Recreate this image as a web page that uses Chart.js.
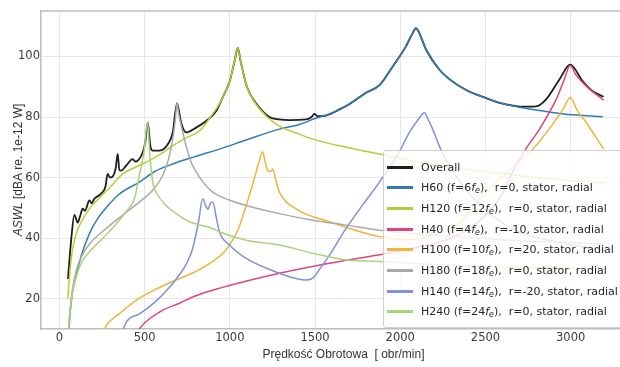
<!DOCTYPE html>
<html>
<head>
<meta charset="utf-8">
<script src="https://cdn.jsdelivr.net/npm/chart.js@4.4.1/dist/chart.umd.min.js"></script>
<style>
  html, body { margin: 0; padding: 0; background: #fff; overflow: hidden; }
  #wrap { position: relative; width: 660px; height: 367px; }
  #legend {
    position: absolute; left: 383px; top: 150px; width: 260px; height: 178px;
    box-sizing: border-box; border: 1px solid #d0d0d0; border-radius: 3px;
    background: rgba(255, 255, 255, 0.8);
    font-family: 'DejaVu Sans', sans-serif; font-size: 11px; color: #262626;
  }
  .row { position: absolute; left: 0; height: 20px; display: flex; align-items: center; white-space: nowrap; }
  .swatch { display: inline-block; width: 26px; height: 3px; margin-left: 3px; margin-right: 8px; }
  .row sub { font-size: 8px; vertical-align: -2px; line-height: 0; }
</style>
</head>
<body>
<div id="wrap">
  <canvas id="chart"></canvas>
  <div id="legend"></div>
</div>
<script>
// tick values
const xTicks = [0, 500, 1000, 1500, 2000, 2500, 3000];
const yTicks = [20, 40, 60, 80, 100];

// legend text parts
const seriesNames = ['Overall', 'H60', 'H120', 'H40', 'H100', 'H180', 'H140', 'H240'];
const harmonics = [null, 6, 12, 4, 10, 18, 14, 24];
const rValues = [null, 0, 0, -10, 20, 0, -20, 0];
const seriesColors = ['#1e1e1e', '#2f7db3', '#b6ce35', '#e0457b', '#f0b43c', '#a9a9a9', '#7f91d8', '#a8d47a'];

// values (speed in obr/min, level in dBA)
const overallX = [50, 70, 88, 107, 120, 137, 150, 176, 190, 205, 245, 270, 283, 297, 315, 330, 342, 352, 362, 391, 430, 445, 460, 489, 505, 518, 535, 548, 587, 636, 665, 690, 715, 743, 802, 861, 920, 950, 1000, 1030, 1046, 1065, 1100, 1154, 1232, 1290, 1350, 1448, 1480, 1496, 1515, 1545, 1643, 1700, 1799, 1878, 1956, 2030, 2073, 2092, 2105, 2152, 2230, 2300, 2387, 2500, 2582, 2680, 2719, 2797, 2856, 2934, 2997, 3071, 3130, 3193];
const overallY = [26.5, 40, 47.7, 45.1, 47, 49.7, 49, 52.5, 51.5, 53, 54.7, 57, 61.2, 60, 60.5, 63, 67.8, 62.5, 62.3, 63.9, 66.1, 65.3, 65.6, 68.3, 72, 78.2, 70, 68.9, 68.9, 71, 74.9, 84.5, 78, 74.9, 76.5, 78.7, 82, 85.5, 92, 99, 102.8, 98, 90, 84.5, 80, 79.2, 79, 79.2, 80, 81, 80.3, 80.3, 82.5, 84.2, 88, 90.5, 96.7, 103, 107.7, 109.3, 108.5, 102.2, 95.6, 92, 88.9, 86.3, 84.7, 83.6, 83.4, 83.5, 85.8, 92.4, 97.3, 91.8, 88.5, 86.7];

const h60X = [56, 65, 78, 101, 130, 176, 220, 274, 350, 469, 560, 665, 800, 939, 1100, 1291, 1408, 1500, 1604, 1682, 1799, 1878, 1956, 2030, 2073, 2092, 2105, 2152, 2230, 2300, 2387, 2500, 2582, 2700, 2778, 2974, 3189];
const h60Y = [10, 16.5, 22.5, 28.5, 34.5, 41.5, 46, 50, 54.5, 58.5, 62, 64.5, 67, 69.4, 72.5, 76, 77.5, 79.5, 81.4, 83.6, 88, 90.5, 96.7, 103, 107.7, 109.3, 108.5, 102.2, 95.6, 92, 88.9, 86.3, 84.7, 83.2, 82.5, 80.9, 80.1];

const h120X = [49, 60, 70, 82, 105, 140, 180, 238, 300, 372, 450, 528, 600, 665, 740, 822, 880, 950, 1000, 1030, 1046, 1065, 1100, 1154, 1220, 1291, 1400, 1487, 1682, 1878, 2100, 2300, 2500, 2800, 3000, 3200];
const h120Y = [20, 28, 33.5, 37.7, 42.5, 46.5, 50, 53.5, 57, 61.2, 63.5, 65.6, 68, 70.5, 73, 75.4, 79.5, 85.5, 92, 99, 102.8, 98, 90, 84.2, 80, 77, 74.5, 72.7, 70, 67.8, 65.2, 63.3, 62, 60, 59, 58.3];

const h40X = [440, 500, 600, 704, 800, 942, 1291, 1585, 1878, 2100, 2300, 2450, 2582, 2677, 2736, 2817, 2915, 2960, 2997, 3030, 3091, 3193];
const h40Y = [8, 12, 16, 18.5, 21, 23.5, 28.4, 31.7, 34.5, 37, 40, 45, 53, 63.9, 69.4, 76, 85.8, 92, 97, 94, 90.2, 85.6];

const h100X = [250, 274, 350, 469, 560, 665, 800, 900, 960, 998, 1050, 1096, 1130, 1154, 1175, 1193, 1208, 1222, 1240, 1252, 1270, 1291, 1389, 1585, 1878, 2050, 2200, 2350, 2504, 2650, 2778, 2915, 2960, 2997, 3040, 3091, 3193];
const h100Y = [8, 11, 15, 20.2, 23, 25.7, 29, 32.3, 35, 37.7, 43, 50.8, 57, 61.8, 66, 68.5, 65, 62.3, 62, 62.8, 59, 55.2, 49.7, 45.4, 40.5, 39.5, 41, 45, 55.2, 63, 69.4, 79.2, 83, 86.4, 82, 78.2, 69.4];

const h180X = [54, 62, 75, 100, 130, 176, 274, 380, 469, 550, 606, 640, 665, 680, 690, 700, 724, 743, 770, 802, 850, 900, 1000, 1096, 1291, 1487, 1682, 1878, 2200, 2600, 3000, 3200];
const h180Y = [10, 16, 22.5, 29.5, 34, 38, 43.2, 48, 51.9, 56, 60.7, 66, 72.7, 79, 84.5, 81, 74.9, 70.5, 65.5, 62, 58, 55.2, 52.5, 50.8, 48.1, 45.9, 44.3, 42.6, 41, 39.5, 38.5, 38];

const h140X = [370, 381, 470, 567, 650, 704, 750, 782, 815, 841, 860, 872, 885, 900, 920, 939, 998, 1096, 1291, 1400, 1448, 1487, 1530, 1585, 1682, 1780, 1878, 1980, 2054, 2110, 2142, 2165, 2190, 2240, 2289, 2400, 2550, 2700, 2900, 3200];
const h140Y = [8, 11, 15, 19.2, 24, 27.9, 32, 36.6, 45, 53, 50.5, 49.5, 51.5, 51.9, 47, 42.1, 37.7, 33.3, 28.4, 26.5, 26.2, 26.8, 30, 34.4, 43.2, 51, 58.5, 67, 74.9, 79.5, 81.4, 79, 76, 69, 63.9, 55, 47, 42, 39, 36];

const h240X = [54, 62, 75, 100, 130, 176, 274, 391, 440, 469, 495, 518, 530, 548, 580, 626, 700, 763, 900, 939, 1096, 1291, 1487, 1682, 1878, 2200, 2600, 3000, 3200];
const h240Y = [10, 15.5, 21.5, 27.5, 32, 35.5, 41, 48.7, 53, 60.7, 68, 78.2, 68, 58.5, 54, 50.8, 47.5, 45.4, 43.2, 42.1, 39.3, 37.7, 35, 32.8, 32.3, 31.3, 30.5, 30, 29.8];

const seriesX = [overallX, h60X, h120X, h40X, h100X, h180X, h140X, h240X];
const seriesY = [overallY, h60Y, h120Y, h40Y, h100Y, h180Y, h140Y, h240Y];

function plainLabel(i) {
    if (harmonics[i] === null) return seriesNames[i];
    return `${seriesNames[i]} (f=${harmonics[i]}fe),  r=${rValues[i]}, stator, radial`;
}

function htmlLabel(i) {
    if (harmonics[i] === null) return seriesNames[i];
    return `${seriesNames[i]} (f=${harmonics[i]}<i>f</i><sub><i>e</i></sub>),&nbsp; r=${rValues[i]}, stator, radial`;
}

const datasets = seriesNames.map((name, i) => ({
    label: plainLabel(i),
    data: seriesX[i].map((x, k) => ({ x: x, y: seriesY[i][k] })),
    borderColor: seriesColors[i],
    backgroundColor: seriesColors[i],
    borderWidth: i === 0 ? 1.8 : 1.5,
    pointRadius: 0,
    cubicInterpolationMode: 'monotone',
    order: seriesNames.length - i
}));

// top/right spines and the y title (ASWL is italic in the original)
const frameAndTitle = {
    id: 'frameAndTitle',
    afterDraw(chart) {
        const a = chart.chartArea;
        const ctx = chart.ctx;
        ctx.save();
        ctx.strokeStyle = '#bdbdbd';
        ctx.lineWidth = 1.5;
        ctx.beginPath();
        ctx.moveTo(a.left, a.top);
        ctx.lineTo(a.right, a.top);
        ctx.lineTo(a.right, a.bottom);
        ctx.stroke();

        const italicPart = 'ASWL';
        const restPart = ' [dBA re. 1e-12 W]';
        ctx.translate(19, (a.top + a.bottom) / 2);
        ctx.rotate(-Math.PI / 2);
        ctx.fillStyle = '#333';
        ctx.textBaseline = 'middle';
        ctx.font = "italic 12px 'Liberation Sans', Arial, sans-serif";
        const w1 = ctx.measureText(italicPart).width;
        ctx.font = "12px 'Liberation Sans', Arial, sans-serif";
        const w2 = ctx.measureText(restPart).width;
        const start = -(w1 + w2) / 2;
        ctx.textAlign = 'left';
        ctx.font = "italic 12px 'Liberation Sans', Arial, sans-serif";
        ctx.fillText(italicPart, start, 0);
        ctx.font = "12px 'Liberation Sans', Arial, sans-serif";
        ctx.fillText(restPart, start + w1, 0);
        ctx.restore();
    }
};

const tickFont = { family: "'DejaVu Sans', sans-serif", size: 11.5 };
const titleFont = { family: "'Liberation Sans', Arial, sans-serif", size: 12 };

new Chart(document.getElementById('chart'), {
    type: 'line',
    data: { datasets: datasets },
    options: {
        responsive: true,
        maintainAspectRatio: false,
        animation: false,
        layout: { padding: { left: 0, top: 11, right: 14, bottom: 0 } },
        plugins: {
            legend: { display: false },
            tooltip: { enabled: false }
        },
        scales: {
            x: {
                type: 'linear',
                min: -108,
                max: 3442,
                afterBuildTicks: s => { s.ticks = xTicks.map(v => ({ value: v })); },
                afterFit: s => { s.height = 38; },
                ticks: { color: '#3a3a3a', font: tickFont, padding: 2, maxRotation: 0, callback: v => String(v) },
                grid: { color: '#e6e6e6', lineWidth: 1, drawTicks: false },
                border: { color: '#bdbdbd', width: 1.5 },
                title: {
                    display: true,
                    text: 'Prędkość Obrotowa  [ obr/min]',
                    color: '#333',
                    font: titleFont,
                    padding: { top: 0, bottom: 5 }
                }
            },
            y: {
                min: 10,
                max: 115,
                afterBuildTicks: s => { s.ticks = yTicks.map(v => ({ value: v })); },
                afterFit: s => { s.width = 41; },
                ticks: { color: '#3a3a3a', font: tickFont, padding: 1, callback: v => String(v) },
                grid: { color: '#e6e6e6', lineWidth: 1, drawTicks: false },
                border: { color: '#bdbdbd', width: 1.5 }
            }
        }
    },
    plugins: [frameAndTitle]
});

// legend drawn as html so the subscript stays real text
const legendBox = document.getElementById('legend');
seriesNames.forEach((name, i) => {
    const row = document.createElement('div');
    row.className = 'row';
    row.style.top = (6 + i * 20.7) + 'px';
    row.innerHTML = `<span class="swatch" style="background:${seriesColors[i]}"></span><span>${htmlLabel(i)}</span>`;
    legendBox.appendChild(row);
});
</script>
</body>
</html>
